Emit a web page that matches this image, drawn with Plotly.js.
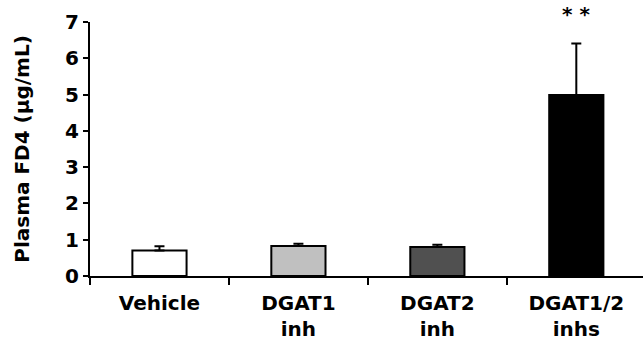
<!DOCTYPE html>
<html>
<head>
<meta charset="utf-8">
<script src="https://cdn.plot.ly/plotly-3.0.1.min.js"></script>
<style>html,body{margin:0;padding:0;background:#fff;}#chart{width:643px;height:344px;}</style>
</head>
<body>
<div id="chart"></div>
<script>
var categories = ["Vehicle", "DGAT1<br>inh", "DGAT2<br>inh", "DGAT1/2<br>inhs"];
var means = [0.70, 0.83, 0.80, 4.99];
var errors = [0.12, 0.06, 0.06, 1.42];
var barColors = ["#ffffff", "#c0c0c0", "#505050", "#000000"];
var significance = ["", "", "", "* *"];
var yTicks = [0, 1, 2, 3, 4, 5, 6, 7];

var trace = {
  type: "bar",
  x: categories,
  y: means,
  width: 0.39,
  marker: {color: barColors, line: {color: "#000", width: 2}},
  error_y: {type: "data", array: errors, arrayminus: errors.map(function(){return 0;}), symmetric: false, color: "#000", thickness: 2, width: 5},
  hoverinfo: "none"
};

var annotations = [];
significance.forEach(function(s, i){
  if (s) annotations.push({x: categories[i], y: 1.086, xref: "x", yref: "paper", yanchor: "top", text: s, showarrow: false, font: {size: 20, color: "#000", family: "DejaVu Sans", weight: 700}});
});

var layout = {
  width: 643, height: 344,
  margin: {l: 90, r: 0, t: 22, b: 67.5},
  paper_bgcolor: "#fff", plot_bgcolor: "#fff",
  font: {family: "DejaVu Sans", size: 20, color: "#000", weight: 700},
  showlegend: false,
  xaxis: {
    type: "category",
    range: [-0.5, 3.48],
    showline: true, linecolor: "#000", linewidth: 2,
    ticks: "outside", tickson: "boundaries", ticklen: 7, tickwidth: 2, tickcolor: "#000",
    ticklabelstandoff: 8,
    showgrid: false, zeroline: false,
    tickfont: {family: "DejaVu Sans", size: 20, color: "#000", weight: 700}
  },
  yaxis: {
    range: [0, 7],
    tickvals: yTicks,
    showline: true, linecolor: "#000", linewidth: 2,
    ticks: "outside", ticklen: 5, tickwidth: 2, tickcolor: "#000",
    showgrid: false, zeroline: false,
    tickfont: {family: "DejaVu Sans", size: 20, color: "#000", weight: 700},
    title: {text: "Plasma FD4 (µg/mL)", standoff: 30, font: {family: "DejaVu Sans", size: 20, color: "#000", weight: 700}}
  },
  annotations: annotations
};

Plotly.newPlot("chart", [trace], layout, {displayModeBar: false, staticPlot: true});
</script>
</body>
</html>
